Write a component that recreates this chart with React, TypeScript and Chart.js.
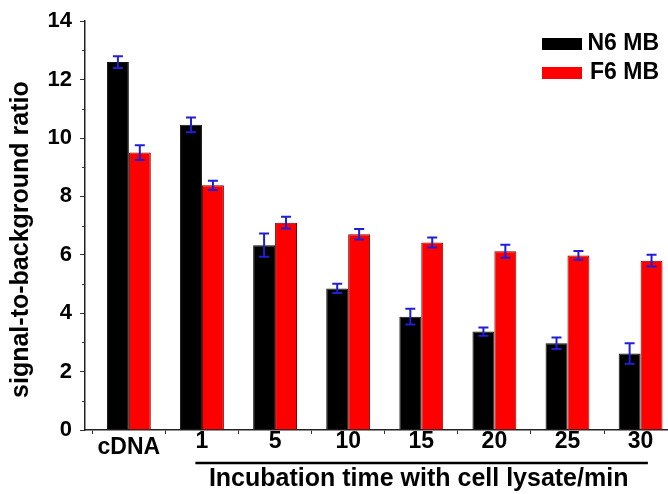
import React, { useEffect, useRef } from 'react';
import { Chart, registerables } from 'chart.js';

Chart.register(...registerables);

const categories = ['cDNA', '1', '5', '10', '15', '20', '25', '30'];
const seriesNames = ['N6 MB', 'F6 MB'];
const n6Values = [12.6, 10.45, 6.33, 4.85, 3.88, 3.37, 2.97, 2.62];
const n6Errors = [0.2, 0.25, 0.4, 0.16, 0.27, 0.14, 0.2, 0.35];
const f6Values = [9.5, 8.38, 7.1, 6.7, 6.42, 6.12, 5.98, 5.8];
const f6Errors = [0.25, 0.16, 0.2, 0.18, 0.17, 0.22, 0.15, 0.2];
const yTickValues = [0, 2, 4, 6, 8, 10, 12, 14];
const yMinorTickValues = [1, 3, 5, 7, 9, 11, 13];
const xTitle = 'Incubation time with cell lysate/min';
const yTitle = 'signal-to-background ratio';

const FONT = "'Liberation Sans', Arial, Helvetica, sans-serif";
const errorSets = [n6Errors, f6Errors];

const decorPlugin = {
  id: 'decor',
  afterDatasetsDraw(chart: any) {
    const ctx = chart.ctx;
    const y = chart.scales.y;
    chart.data.datasets.forEach((ds: any, di: number) => {
      const meta = chart.getDatasetMeta(di);
      const errs = errorSets[di];
      meta.data.forEach((bar: any, i: number) => {
        const v = ds.data[i].y;
        const e = errs[i];
        const top = y.getPixelForValue(v + e);
        const bot = y.getPixelForValue(v - e);
        ctx.save();
        ctx.strokeStyle = '#1f1fd6';
        ctx.lineWidth = 2;
        ctx.beginPath();
        ctx.moveTo(bar.x, top);
        ctx.lineTo(bar.x, bot);
        ctx.moveTo(bar.x - 5, top);
        ctx.lineTo(bar.x + 5, top);
        ctx.moveTo(bar.x - 5, bot);
        ctx.lineTo(bar.x + 5, bot);
        ctx.stroke();
        ctx.restore();
      });
    });
  },
  afterDraw(chart: any) {
    const ctx = chart.ctx;
    const { left, right, top, bottom } = chart.chartArea;
    const x = chart.scales.x;
    const y = chart.scales.y;
    ctx.save();
    // minor y ticks
    ctx.strokeStyle = '#333';
    ctx.lineWidth = 1;
    yMinorTickValues.forEach((v) => {
      const py = Math.round(y.getPixelForValue(v)) + 0.5;
      ctx.beginPath();
      ctx.moveTo(left - 3, py);
      ctx.lineTo(left, py);
      ctx.stroke();
    });
    // bracket line under time labels
    const x1 = x.getPixelForValue(2 - 0.09);
    const x2 = x.getPixelForValue(categories.length + 0.1);
    ctx.strokeStyle = '#000';
    ctx.lineWidth = 2.5;
    ctx.beginPath();
    ctx.moveTo(x1, 463);
    ctx.lineTo(x2, 463);
    ctx.stroke();
    // x title
    ctx.fillStyle = '#000';
    ctx.font = `bold 25px ${FONT}`;
    ctx.textAlign = 'center';
    ctx.textBaseline = 'middle';
    ctx.fillText(xTitle, (x1 + x2) / 2 - 3, 479);
    // y title
    ctx.save();
    ctx.translate(21, (top + bottom) / 2 + 14);
    ctx.rotate(-Math.PI / 2);
    ctx.font = `bold 25px ${FONT}`;
    ctx.textAlign = 'center';
    ctx.textBaseline = 'middle';
    ctx.fillText(yTitle, 0, 0);
    ctx.restore();
    // legend
    const rows = [44, 73];
    chart.data.datasets.forEach((ds: any, di: number) => {
      const cy = rows[di];
      ctx.fillStyle = ds.backgroundColor;
      ctx.fillRect(right - 126, cy - 6, 40, 12);
      ctx.fillStyle = '#000';
      ctx.font = `bold 23px ${FONT}`;
      ctx.textAlign = 'right';
      ctx.textBaseline = 'middle';
      ctx.fillText(ds.label, right - 9, cy);
    });
    ctx.restore();
  },
};

export default function App() {
  const canvasRef = useRef<HTMLCanvasElement | null>(null);

  useEffect(() => {
    const canvas = canvasRef.current;
    if (!canvas) return;
    const xs = categories.map((_, i) => i + 1);
    const chart = new Chart(canvas, {
      type: 'bar',
      data: {
        datasets: [
          {
            label: seriesNames[0],
            data: xs.map((xv, i) => ({ x: xv, y: n6Values[i] })),
            backgroundColor: '#000000',
            borderColor: '#111111',
            borderWidth: 1,
            categoryPercentage: 0.6,
            barPercentage: 1.0,
          },
          {
            label: seriesNames[1],
            data: xs.map((xv, i) => ({ x: xv, y: f6Values[i] })),
            backgroundColor: '#ff0000',
            borderColor: '#7a0000',
            borderWidth: 1,
            categoryPercentage: 0.6,
            barPercentage: 1.0,
          },
        ],
      } as any,
      options: {
        animation: false,
        responsive: false,
        devicePixelRatio: 1,
        layout: { padding: { top: 17, left: 0, right: 0, bottom: 0 } },
        plugins: {
          legend: { display: false },
          tooltip: { enabled: false },
        },
        scales: {
          x: {
            type: 'linear',
            min: 0.4,
            max: 8.375,
            offset: false,
            afterFit: (scale: any) => {
              scale.height = 64;
            },
            afterBuildTicks: (scale: any) => {
              scale.ticks = xs.map((v) => ({ value: v }));
            },
            grid: {
              display: true,
              offset: true,
              drawOnChartArea: false,
              drawTicks: true,
              tickLength: 4,
              tickColor: '#333',
              tickWidth: 1,
            },
            border: { display: true, color: '#222', width: 1.5 },
            ticks: {
              autoSkip: false,
              maxRotation: 0,
              padding: 0,
              color: '#000',
              font: (c: any) => ({
                family: FONT,
                size: 23,
                weight: 'bold',
                lineHeight: c.index === 0 ? '28px' : '16px',
              }),
              callback: (value: any) => categories[Math.round(value) - 1] ?? '',
            },
          },
          y: {
            type: 'linear',
            min: 0,
            max: 14,
            afterFit: (scale: any) => {
              scale.width = 85;
            },
            afterBuildTicks: (scale: any) => {
              scale.ticks = yTickValues.map((v) => ({ value: v }));
            },
            grid: {
              display: true,
              drawOnChartArea: false,
              drawTicks: true,
              tickLength: 5,
              tickColor: '#333',
              tickWidth: 1,
            },
            border: { display: true, color: '#222', width: 1.5 },
            ticks: {
              padding: 8,
              color: '#000',
              font: { family: FONT, size: 22, weight: 'bold' },
            },
          },
        },
      } as any,
      plugins: [decorPlugin],
    });
    return () => chart.destroy();
  }, []);

  return (
    <div
      style={{
        position: 'fixed',
        left: 0,
        top: 0,
        width: 668,
        height: 494,
        background: '#ffffff',
      }}
    >
      <canvas ref={canvasRef} width={668} height={494} style={{ display: 'block' }} />
    </div>
  );
}
